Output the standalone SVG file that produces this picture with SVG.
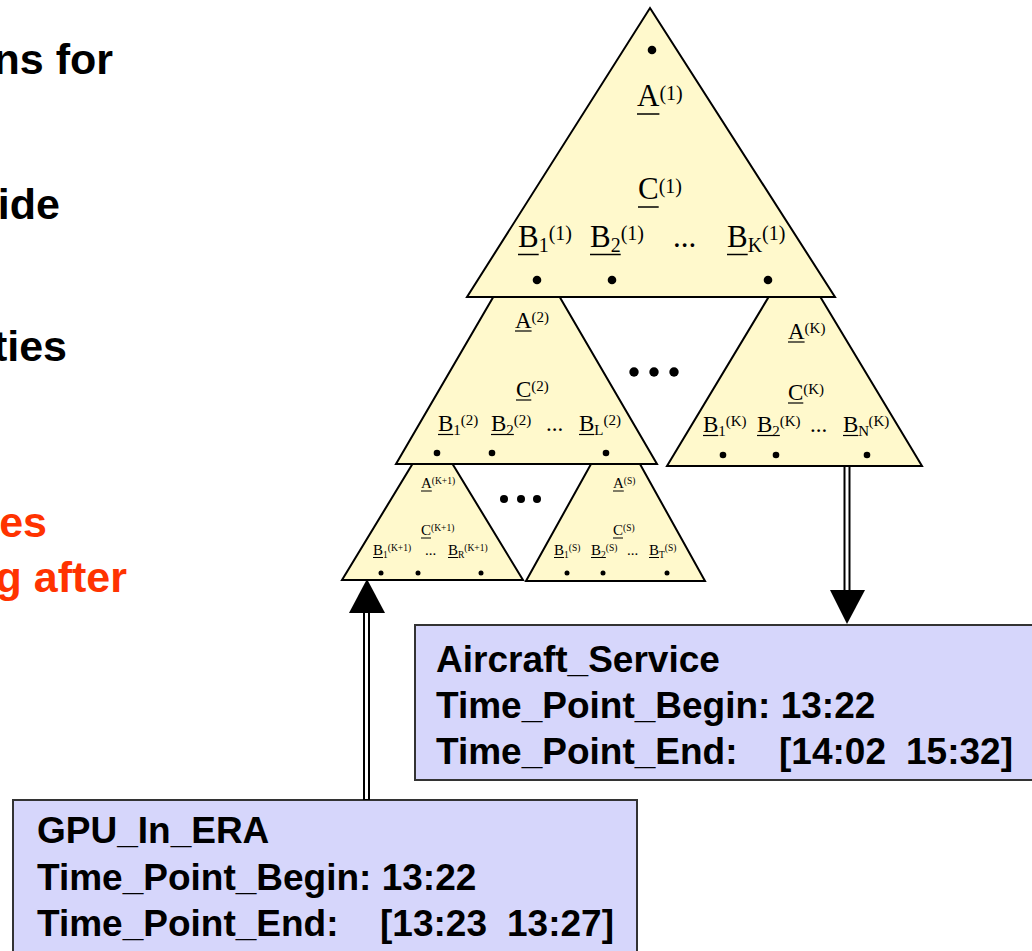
<svg xmlns="http://www.w3.org/2000/svg" width="1032" height="951" viewBox="0 0 1032 951">
  <style>
    .tri { fill: #FFF9CC; stroke: #000; stroke-width: 2; stroke-linejoin: miter; }
    .box { fill: #D6D6FB; stroke: #333; stroke-width: 2; }
    .serif { font-family: "Liberation Serif", "Times New Roman", serif; fill: #000; }
    .bold { font-family: "Liberation Sans", Arial, sans-serif; font-weight: bold; fill: #000; }
    .red { fill: #FF3300; }
    .ul1 { stroke: #000; stroke-width: 1.5; }
    .ul2 { stroke: #000; stroke-width: 1.2; }
    .ul3 { stroke: #000; stroke-width: 1; }
    .shaft { stroke: #000; stroke-width: 7; }
    .gap { stroke: #fff; stroke-width: 3; }
    .t1 { font-size: 31px; }
    .s1 { font-size: 20px; }
    .t2 { font-size: 23px; }
    .s2 { font-size: 15px; }
    .t3 { font-size: 15px; }
    .s3 { font-size: 9.5px; }
    .lbl { font-size: 37px; }
    .body { font-size: 43px; }
  </style>

  <!-- slide body text, clipped at the left edge -->
  <g id="slide-text" class="bold body" text-anchor="end">
    <text x="113" y="74">ns for</text>
    <text x="60" y="219">ide</text>
    <text x="67" y="361">ties</text>
    <text x="47" y="537" class="bold red">es</text>
    <text x="127" y="592" class="bold red">g after</text>
  </g>

  <!-- third level subtrees -->
  <g id="tree-k1">
    <polygon class="tri" points="432.5,431 523,580 342,580"/>
    <g class="serif">
      <text class="t3" x="421" y="488">A</text><text class="s3" x="431.8" y="484">(K+1)</text>
      <text class="t3" x="421" y="535">C</text><text class="s3" x="431" y="531">(K+1)</text>
      <text class="t3" x="373" y="555">B</text><text class="s3" x="383" y="558">1</text><text class="s3" x="387.8" y="551">(K+1)</text>
      <text class="t3" x="425" y="555">...</text>
      <text class="t3" x="448" y="555">B</text><text class="s3" x="458" y="558">R</text><text class="s3" x="464.3" y="551">(K+1)</text>
    </g>
    <line class="ul3" x1="421" y1="491" x2="431.8" y2="491"/>
    <line class="ul3" x1="421" y1="538" x2="431" y2="538"/>
    <line class="ul3" x1="373" y1="557.5" x2="383" y2="557.5"/>
    <line class="ul3" x1="448" y1="557.5" x2="458" y2="557.5"/>
    <circle cx="381" cy="573" r="2.5"/><circle cx="418" cy="573" r="2.5"/><circle cx="481" cy="573" r="2.5"/>
  </g>

  <g id="tree-s">
    <polygon class="tri" points="615.5,420 705,581 526,581"/>
    <g class="serif">
      <text class="t3" x="613" y="488">A</text><text class="s3" x="623.8" y="484">(S)</text>
      <text class="t3" x="613" y="535">C</text><text class="s3" x="623" y="531">(S)</text>
      <text class="t3" x="554" y="555">B</text><text class="s3" x="564" y="558">1</text><text class="s3" x="568.8" y="551">(S)</text>
      <text class="t3" x="591" y="555">B</text><text class="s3" x="601" y="558">2</text><text class="s3" x="605.8" y="551">(S)</text>
      <text class="t3" x="627" y="555">...</text>
      <text class="t3" x="649" y="555">B</text><text class="s3" x="659" y="558">T</text><text class="s3" x="664.8" y="551">(S)</text>
    </g>
    <line class="ul3" x1="613" y1="491" x2="623.8" y2="491"/>
    <line class="ul3" x1="613" y1="538" x2="623" y2="538"/>
    <line class="ul3" x1="554" y1="557.5" x2="564" y2="557.5"/>
    <line class="ul3" x1="591" y1="557.5" x2="605.8" y2="557.5"/>
    <line class="ul3" x1="649" y1="557.5" x2="659" y2="557.5"/>
    <circle cx="567" cy="573" r="2.5"/><circle cx="603" cy="573" r="2.5"/><circle cx="667" cy="573" r="2.5"/>
  </g>

  <!-- second level subtrees -->
  <g id="tree-2">
    <polygon class="tri" points="526.5,240 657,464 396,464"/>
    <g class="serif">
      <text class="t2" x="515" y="328">A</text><text class="s2" x="531.6" y="322">(2)</text>
      <text class="t2" x="516" y="397">C</text><text class="s2" x="531.3" y="391">(2)</text>
      <text class="t2" x="438" y="431">B</text><text class="s2" x="453.3" y="435">1</text><text class="s2" x="460.8" y="425">(2)</text>
      <text class="t2" x="491" y="431">B</text><text class="s2" x="506.3" y="435">2</text><text class="s2" x="513.8" y="425">(2)</text>
      <text class="t2" x="546" y="431">...</text>
      <text class="t2" x="579" y="431">B</text><text class="s2" x="594.3" y="435">L</text><text class="s2" x="603.5" y="425">(2)</text>
    </g>
    <line class="ul2" x1="515" y1="331" x2="531.6" y2="331"/>
    <line class="ul2" x1="516" y1="400" x2="531.3" y2="400"/>
    <line class="ul2" x1="438" y1="434.5" x2="453.3" y2="434.5"/>
    <line class="ul2" x1="491" y1="434.5" x2="513.8" y2="434.5"/>
    <line class="ul2" x1="579" y1="434.5" x2="594.3" y2="434.5"/>
    <circle cx="437" cy="453" r="3.3"/><circle cx="492" cy="453" r="3.3"/><circle cx="606" cy="453" r="3.3"/>
  </g>

  <g id="tree-k">
    <polygon class="tri" points="794.5,254 922,466 667,466"/>
    <g class="serif">
      <text class="t2" x="788" y="339">A</text><text class="s2" x="804.6" y="333">(K)</text>
      <text class="t2" x="788" y="400">C</text><text class="s2" x="803.3" y="394">(K)</text>
      <text class="t2" x="703" y="432">B</text><text class="s2" x="718.3" y="436">1</text><text class="s2" x="725.8" y="426">(K)</text>
      <text class="t2" x="757" y="432">B</text><text class="s2" x="772.3" y="436">2</text><text class="s2" x="779.8" y="426">(K)</text>
      <text class="t2" x="810" y="432">...</text>
      <text class="t2" x="843" y="432">B</text><text class="s2" x="858.3" y="436">N</text><text class="s2" x="868.5" y="426">(K)</text>
    </g>
    <line class="ul2" x1="788" y1="342" x2="804.6" y2="342"/>
    <line class="ul2" x1="788" y1="403" x2="803.3" y2="403"/>
    <line class="ul2" x1="703" y1="435.5" x2="718.3" y2="435.5"/>
    <line class="ul2" x1="757" y1="435.5" x2="779.8" y2="435.5"/>
    <line class="ul2" x1="843" y1="435.5" x2="858.3" y2="435.5"/>
    <circle cx="723" cy="455" r="3.3"/><circle cx="776" cy="455" r="3.3"/><circle cx="867" cy="455" r="3.3"/>
  </g>

  <!-- root tree -->
  <g id="tree-1">
    <polygon class="tri" points="650,8 835,297 467,297"/>
    <circle cx="652" cy="50" r="4.3"/>
    <g class="serif">
      <text class="t1" x="637" y="106">A</text><text class="s1" x="659.4" y="100">(1)</text>
      <text class="t1" x="638" y="199">C</text><text class="s1" x="658.7" y="193">(1)</text>
      <text class="t1" x="518" y="247">B</text><text class="s1" x="538.7" y="252">1</text><text class="s1" x="548.7" y="240">(1)</text>
      <text class="t1" x="590" y="247">B</text><text class="s1" x="610.7" y="252">2</text><text class="s1" x="620.7" y="240">(1)</text>
      <text class="t1" x="673" y="247">...</text>
      <text class="t1" x="727" y="247">B</text><text class="s1" x="747.7" y="252">K</text><text class="s1" x="762" y="240">(1)</text>
    </g>
    <line class="ul1" x1="637" y1="114" x2="659.4" y2="114"/>
    <line class="ul1" x1="638" y1="207" x2="658.7" y2="207"/>
    <line class="ul1" x1="518" y1="254.5" x2="538.7" y2="254.5"/>
    <line class="ul1" x1="590" y1="254.5" x2="620.7" y2="254.5"/>
    <line class="ul1" x1="727" y1="254.5" x2="747.7" y2="254.5"/>
    <circle cx="537" cy="280" r="4.3"/><circle cx="612" cy="280" r="4.3"/><circle cx="768" cy="280" r="4.3"/>
  </g>

  <!-- elided siblings -->
  <g id="ellipsis-upper">
    <circle cx="634" cy="372" r="4.7"/><circle cx="654" cy="372" r="4.7"/><circle cx="674" cy="372" r="4.7"/>
  </g>
  <g id="ellipsis-lower">
    <circle cx="504" cy="499" r="4"/><circle cx="521" cy="499" r="4"/><circle cx="537" cy="499" r="4"/>
  </g>

  <!-- activity boxes -->
  <g id="aircraft-service">
    <rect class="box" x="415" y="625" width="640" height="155"/>
    <g class="bold lbl">
      <text x="436" y="672">Aircraft_Service</text>
      <text x="436" y="718">Time_Point_Begin: 13:22</text>
      <text x="436" y="764">Time_Point_End:</text>
      <text x="779" y="764">[14:02</text>
      <text x="906" y="764">15:32]</text>
    </g>
  </g>

  <g id="gpu-in-era">
    <rect class="box" x="13" y="800" width="624" height="170"/>
    <g class="bold lbl">
      <text x="37" y="843">GPU_In_ERA</text>
      <text x="37" y="890">Time_Point_Begin: 13:22</text>
      <text x="37" y="936">Time_Point_End:</text>
      <text x="380" y="936">[13:23</text>
      <text x="507" y="936">13:27]</text>
    </g>
  </g>

  <!-- double-line connectors -->
  <g id="connectors">
    <line class="shaft" x1="366.5" y1="612" x2="366.5" y2="800"/>
    <line class="gap" x1="366.5" y1="612" x2="366.5" y2="799"/>
    <polygon points="367,579 385,613 349,613" fill="#000"/>
    <line class="shaft" x1="847" y1="467" x2="847" y2="591"/>
    <line class="gap" x1="847" y1="467" x2="847" y2="591"/>
    <polygon points="830,590 865,590 847,624" fill="#000"/>
  </g>
</svg>
